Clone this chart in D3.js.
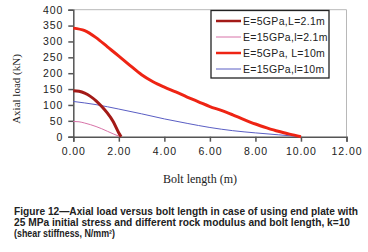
<!DOCTYPE html>
<html><head><meta charset="utf-8">
<script src="https://cdn.jsdelivr.net/npm/d3@7"></script>
<style>body{margin:0;background:#fff}svg{display:block}</style>
</head><body>
<svg id="c" width="368" height="252"></svg>
<script>
const seriesNames = ["E=5GPa,L=2.1m","E=15GPa,l=2.1m","E=5GPa, L=10m","E=15GPa,l=10m"];
const seriesColors = ["#a31a17","#d873a8","#ee2414","#5a5ec4"];
const seriesWidths = [3,1,3,1];
const xShort = [0,0.25,0.5,0.75,1.0,1.25,1.5,1.75,2.0,2.1];
const yDarkRed = [145,143,137,127,113,95,74,48,12,0];
const yPink = [48,47,43,38,32,25,17,9,2,0];
const xLong = [0,0.5,1,1.5,2,2.5,3,3.5,4,4.5,5,5.5,6,6.5,7,7.5,8,8.5,9,9.5,10];
const yRed = [342,334,312,283,254,224,195,173,156,141,125,110,95,83,69,54,40,28,17,8,0];
const xBlue = [0,1,2,3,4,5,6,7,8,9,10];
const yBlue = [111,101,87,72,56,42,29,19,12,6,0];
const xTicks = [0,2,4,6,8,10,12];
const yTicks = [0,50,100,150,200,250,300,350,400];
const caption = ["Figure 12\u2014Axial load versus bolt length in case of using end plate with",
 "25 MPa initial stress and different rock modulus and bolt length, k=10",
 "(shear stiffness, N/mm\u00b2)"];

const svg = d3.select("#c");
const x = d3.scaleLinear().domain([0,12]).range([73.3,346.5]);
const y = d3.scaleLinear().domain([0,400]).range([136.7,9.7]);

// plot frame (top/right)
svg.append("path").attr("d",`M${x(0)},${y(400)}H${x(12)}V${y(0)}`)
  .attr("fill","none").attr("stroke","#b8b8b8").attr("stroke-width",1);

const xa = svg.append("g").attr("transform",`translate(0,${y(0)})`)
  .call(d3.axisBottom(x).tickValues(xTicks).tickSize(5).tickPadding(6).tickFormat(d3.format(".2f")));
const ya = svg.append("g").attr("transform",`translate(${x(0)},0)`)
  .call(d3.axisLeft(y).tickValues(yTicks).tickSize(5).tickPadding(5).tickFormat(d=>d));
[xa,ya].forEach(a=>{
  a.selectAll("path,line").attr("stroke","#555").attr("stroke-width",1.5);
  a.selectAll("text").attr("font-family","Liberation Sans, Arial, sans-serif")
   .attr("font-size","10.5px").attr("letter-spacing","0.9px").attr("fill","#222");
});

const data = [
  xShort.map((v,i)=>[v,yDarkRed[i]]),
  xShort.map((v,i)=>[v,yPink[i]]),
  xLong.map((v,i)=>[v,yRed[i]]),
  xBlue.map((v,i)=>[v,yBlue[i]])
];
const line = d3.line().x(d=>x(d[0])).y(d=>y(d[1])).curve(d3.curveMonotoneX);
[3,1,2,0].forEach(i=>{
  svg.append("path").attr("d",line(data[i])).attr("fill","none")
    .attr("stroke",seriesColors[i]).attr("stroke-width",seriesWidths[i]);
});

// legend
const lg = svg.append("g");
lg.append("rect").attr("x",211).attr("y",10.5).attr("width",118).attr("height",67.5)
  .attr("fill","#fff").attr("stroke","#222").attr("stroke-width",1.3);
const ly = [21,37,53,69];
seriesNames.forEach((n,i)=>{
  lg.append("line").attr("x1",216).attr("x2",241).attr("y1",ly[i]).attr("y2",ly[i])
    .attr("stroke",seriesColors[i]).attr("stroke-width",seriesWidths[i]===3?2.5:1);
  lg.append("text").attr("x",243).attr("y",ly[i]+4).text(n)
    .attr("font-family","Liberation Sans, Arial, sans-serif").attr("font-size","10.5px")
    .attr("letter-spacing","0.3px").attr("fill","#222");
});

// axis titles
svg.append("text").attr("x",200).attr("y",183).attr("text-anchor","middle")
  .attr("font-family","Liberation Serif, Times New Roman, serif").attr("font-size","12px")
  .attr("fill","#222").text("Bolt length (m)");
svg.append("text").attr("transform","translate(20,89) rotate(-90)").attr("text-anchor","middle")
  .attr("font-family","Liberation Serif, Times New Roman, serif").attr("font-size","11px")
  .attr("fill","#222").text("Axial load (kN)");

// caption
const cf = "Liberation Sans, Arial, sans-serif";
const capY = [215,226,237], capW = [344,336,101];
caption.forEach((c,i)=>{
  svg.append("text").attr("x",14).attr("y",capY[i]).attr("font-family",cf).attr("font-size","10px")
    .attr("font-weight","bold").attr("fill","#222").attr("textLength",capW[i])
    .attr("lengthAdjust","spacingAndGlyphs").text(c);
});
</script>
</body></html>
